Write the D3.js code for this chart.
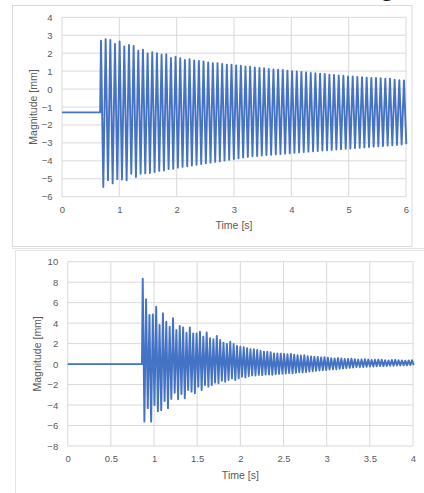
<!DOCTYPE html>
<html>
<head>
<meta charset="utf-8">
<script src="https://cdn.jsdelivr.net/npm/d3@7"></script>
<style>
	html, body { margin: 0; padding: 0; background: #fff; }
	svg { display: block; }
	.tick text { font-family: "Liberation Sans", Arial, sans-serif; fill: #595959; }
	.title { font-family: "Liberation Sans", Arial, sans-serif; fill: #595959; }
</style>
</head>
<body>
<svg id="chart" width="424" height="493"></svg>
<script>
(function(){
	'use strict';

	// ---- top chart: free vibration, 0..6 s ----
	var topTicksX = [0, 1, 2, 3, 4, 5, 6];
	var topTicksY = [-6, -5, -4, -3, -2, -1, 0, 1, 2, 3, 4];
	var topBaseline = -1.3;   // rest position before release [mm]
	var topOnset = 0.665;     // release time [s]
	var topStart = 0.68;      // first peak [s]
	var topPeriod = 0.0813;   // oscillation period [s]
	var topPeaks = [
		2.70, 2.78, 2.74, 2.52, 2.66, 2.38, 2.46, 2.40, 2.14, 2.20,
		1.98, 2.06, 2.00, 1.92, 1.94, 1.74, 1.80, 1.72, 1.62, 1.66,
		1.60, 1.56, 1.54, 1.48, 1.44, 1.44, 1.40, 1.36, 1.36, 1.32,
		1.30, 1.26, 1.24, 1.20, 1.18, 1.16, 1.12, 1.10, 1.08, 1.06,
		1.02, 1.00, 0.98, 0.96, 0.92, 0.90, 0.88, 0.86, 0.84, 0.80,
		0.78, 0.76, 0.74, 0.70, 0.70, 0.68, 0.66, 0.64, 0.62, 0.62,
		0.60, 0.58, 0.58, 0.52, 0.50, 0.48
	];
	var topTroughs = [
		-5.46, -5.08, -5.26, -5.02, -5.04, -5.08, -4.72, -4.90, -4.72, -4.70,
		-4.68, -4.62, -4.56, -4.54, -4.46, -4.44, -4.38, -4.34, -4.30, -4.26,
		-4.22, -4.18, -4.14, -4.10, -4.06, -4.02, -3.98, -3.94, -3.90, -3.86,
		-3.82, -3.78, -3.75, -3.73, -3.70, -3.68, -3.66, -3.64, -3.62, -3.60,
		-3.58, -3.55, -3.53, -3.51, -3.49, -3.47, -3.45, -3.43, -3.41, -3.39,
		-3.37, -3.35, -3.33, -3.31, -3.29, -3.27, -3.25, -3.23, -3.21, -3.19,
		-3.17, -3.15, -3.13, -3.11, -3.09, -3.07
	];

	// ---- bottom chart: impact response, 0..4 s ----
	var botTicksX = [0, 0.5, 1, 1.5, 2, 2.5, 3, 3.5, 4];
	var botTicksY = [-8, -6, -4, -2, 0, 2, 4, 6, 8, 10];
	var botBaseline = 0;
	var botOnset = 0.86;
	var botStart = 0.869;
	var botPeriod = 0.039;
	var botPeaks = [
		8.35, 6.33, 4.80, 4.86, 5.60, 3.82, 4.96, 4.14, 3.65, 4.47,
		3.33, 3.72, 3.59, 3.07, 3.59, 3.00, 3.00, 3.16, 2.68, 3.10,
		2.52, 2.42, 2.74, 2.35, 2.09, 1.96, 2.19, 1.96, 1.77, 1.70,
		1.64, 1.54, 1.45, 1.45, 1.38, 1.28, 1.22, 1.22, 1.15, 1.05,
		1.05, 1.02, 0.98, 0.96, 1.00, 0.92, 0.88, 0.84, 0.86, 0.78,
		0.74, 0.72, 0.70, 0.66, 0.68, 0.62, 0.58, 0.56, 0.60, 0.54,
		0.50, 0.50, 0.52, 0.48, 0.44, 0.46, 0.48, 0.44, 0.40, 0.42,
		0.44, 0.42, 0.38, 0.36, 0.40, 0.42, 0.38, 0.36, 0.34, 0.36,
		0.38
	];
	var botTroughs = [
		-5.62, -4.30, -5.62, -4.00, -4.60, -4.50, -3.60, -4.30, -3.40, -2.80,
		-3.44, -2.92, -3.34, -2.53, -2.69, -2.85, -2.20, -2.53, -2.04, -2.20,
		-2.04, -1.81, -1.88, -1.62, -1.72, -1.56, -1.40, -1.56, -1.40, -1.23,
		-1.30, -1.17, -1.10, -1.12, -1.05, -1.08, -1.02, -1.00, -1.04, -0.98,
		-0.96, -0.94, -0.92, -0.88, -0.90, -0.84, -0.80, -0.82, -0.78, -0.72,
		-0.70, -0.66, -0.62, -0.60, -0.58, -0.54, -0.52, -0.50, -0.46, -0.44,
		-0.40, -0.36, -0.34, -0.30, -0.30, -0.28, -0.26, -0.24, -0.24, -0.22,
		-0.20, -0.20, -0.18, -0.16, -0.16, -0.14, -0.14, -0.12, -0.12, -0.10,
		-0.10
	];

	var svg = d3.select("#chart");
	var lineColor = "#4472c4";
	var gridColor = "#d9d9d9";

	// flat part, then one peak and one trough per period
	function buildSeries(base, onset, start, period, peaks, troughs){
		var pts = [[0, base], [onset, base]];
		peaks.forEach(function(p, i){
			pts.push([start + i * period, p]);
			if(i < troughs.length) pts.push([start + (i + 0.5) * period, troughs[i]]);
		});
		return pts;
	}

	function drawPanel(o){
		var x = d3.scaleLinear()
			.domain(d3.extent(o.ticksX))
			.range([o.left, o.right]);
		var y = d3.scaleLinear()
			.domain(d3.extent(o.ticksY))
			.range([o.bottom, o.top]);

		var g = svg.append("g");

		// grid
		g.append("g")
			.selectAll("line.h")
			.data(o.ticksY)
			.enter().append("line")
			.attr("x1", o.left).attr("x2", o.right)
			.attr("y1", function(d){ return y(d); })
			.attr("y2", function(d){ return y(d); })
			.attr("stroke", gridColor).attr("stroke-width", 1);
		g.append("g")
			.selectAll("line.v")
			.data(o.ticksX)
			.enter().append("line")
			.attr("y1", o.top).attr("y2", o.bottom)
			.attr("x1", function(d){ return x(d); })
			.attr("x2", function(d){ return x(d); })
			.attr("stroke", gridColor).attr("stroke-width", 1);

		// axes (labels only)
		var xAxis = d3.axisBottom(x).tickValues(o.ticksX)
			.tickSize(0).tickPadding(9.5)
			.tickFormat(d3.format("~g"));
		var yAxis = d3.axisLeft(y).tickValues(o.ticksY)
			.tickSize(0).tickPadding(9.5)
			.tickFormat(d3.format("~g"));
		var gx = g.append("g")
			.attr("transform", "translate(0," + o.bottom + ")")
			.call(xAxis);
		var gy = g.append("g")
			.attr("transform", "translate(" + o.left + ",0)")
			.call(yAxis);
		[gx, gy].forEach(function(a){
			a.select(".domain").remove();
			a.selectAll("text").attr("font-size", 9.5).attr("fill", "#595959");
		});

		// signal
		var line = d3.line()
			.x(function(d){ return x(d[0]); })
			.y(function(d){ return y(d[1]); });
		g.append("path")
			.datum(o.series)
			.attr("fill", "none")
			.attr("stroke", lineColor)
			.attr("stroke-width", 1.9)
			.attr("stroke-linejoin", "round")
			.attr("d", line);

		// titles
		g.append("text")
			.attr("class", "title")
			.attr("x", (o.left + o.right) / 2)
			.attr("y", o.bottom + 32.5)
			.attr("text-anchor", "middle")
			.attr("font-size", 10.5)
			.text("Time [s]");
		g.append("text")
			.attr("class", "title")
			.attr("transform", "translate(" + o.yTitleX + "," + ((o.top + o.bottom) / 2) + ") rotate(-90)")
			.attr("text-anchor", "middle")
			.attr("font-size", 10.5)
			.text("Magnitude [mm]");
	}

	// frames
	svg.append("rect")
		.attr("x", 12.5).attr("y", 5.5)
		.attr("width", 399.5).attr("height", 241)
		.attr("fill", "#fff").attr("stroke", "#d9d9d9");
	svg.append("line")
		.attr("x1", 12).attr("x2", 424).attr("y1", 248.5).attr("y2", 248.5)
		.attr("stroke", "#e4e4e4");
	svg.append("path")
		.attr("d", "M15.5,493V250.5H424")
		.attr("fill", "none").attr("stroke", "#e4e4e4");

	// cut-off caption glyph from the page above
	svg.append("text")
		.attr("x", 381).attr("y", -4)
		.attr("font-family", "Liberation Serif, serif")
		.attr("font-size", 24)
		.attr("fill", "#111")
		.text("g");

	drawPanel({
		left: 62, right: 406, top: 17.3, bottom: 196.7,
		yTitleX: 37,
		ticksX: topTicksX, ticksY: topTicksY,
		series: buildSeries(topBaseline, topOnset, topStart, topPeriod, topPeaks, topTroughs)
	});
	drawPanel({
		left: 67.7, right: 413, top: 261.7, bottom: 446,
		yTitleX: 40.5,
		ticksX: botTicksX, ticksY: botTicksY,
		series: buildSeries(botBaseline, botOnset, botStart, botPeriod, botPeaks, botTroughs)
	});
}());
</script>
</body>
</html>
